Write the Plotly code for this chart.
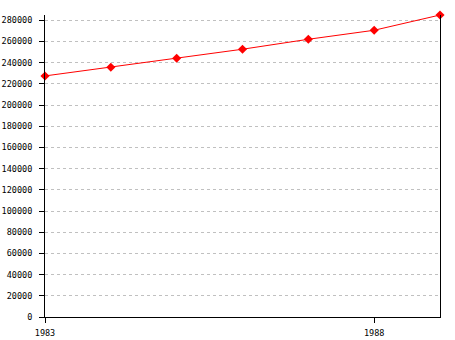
import plotly.graph_objects as go

years = [1983, 1984, 1985, 1986, 1987, 1988, 1989]
values = [227500, 235700, 244200, 252700, 262100, 270600, 285000]
y_ticks = list(range(0, 280001, 20000))
x_ticks = [1983, 1988]

fig = go.Figure()
fig.add_trace(go.Scatter(
    x=years, y=values, mode="lines+markers",
    line=dict(color="#ff0000", width=1),
    marker=dict(symbol="diamond", size=7, color="#ff0000"),
    cliponaxis=False,
))

font = dict(family="DejaVu Sans Mono", size=8.5, color="#000000")
fig.update_layout(
    width=455, height=340,
    margin=dict(l=45, r=15, t=15, b=23),
    paper_bgcolor="white", plot_bgcolor="white",
    showlegend=False,
    font=font,
    xaxis=dict(
        range=[1983, 1989], tickvals=x_ticks, ticktext=[str(v) for v in x_ticks],
        showgrid=False, zeroline=False, showline=True, linecolor="black", linewidth=1,
        ticks="outside", ticklen=5, tickcolor="black", tickfont=font, automargin=False,
        ticklabelstandoff=3,
    ),
    yaxis=dict(
        range=[0, 285000], tickvals=y_ticks, ticktext=[str(v) for v in y_ticks],
        showgrid=True, gridcolor="#c0c0c0", griddash="3px,3px", gridwidth=1,
        zeroline=False, showline=True, mirror=True, linecolor="black", linewidth=1,
        ticks="outside", ticklen=5, tickcolor="black", tickfont=font, automargin=False,
        ticklabelstandoff=5,
    ),
)

fig.write_html("out.html")
